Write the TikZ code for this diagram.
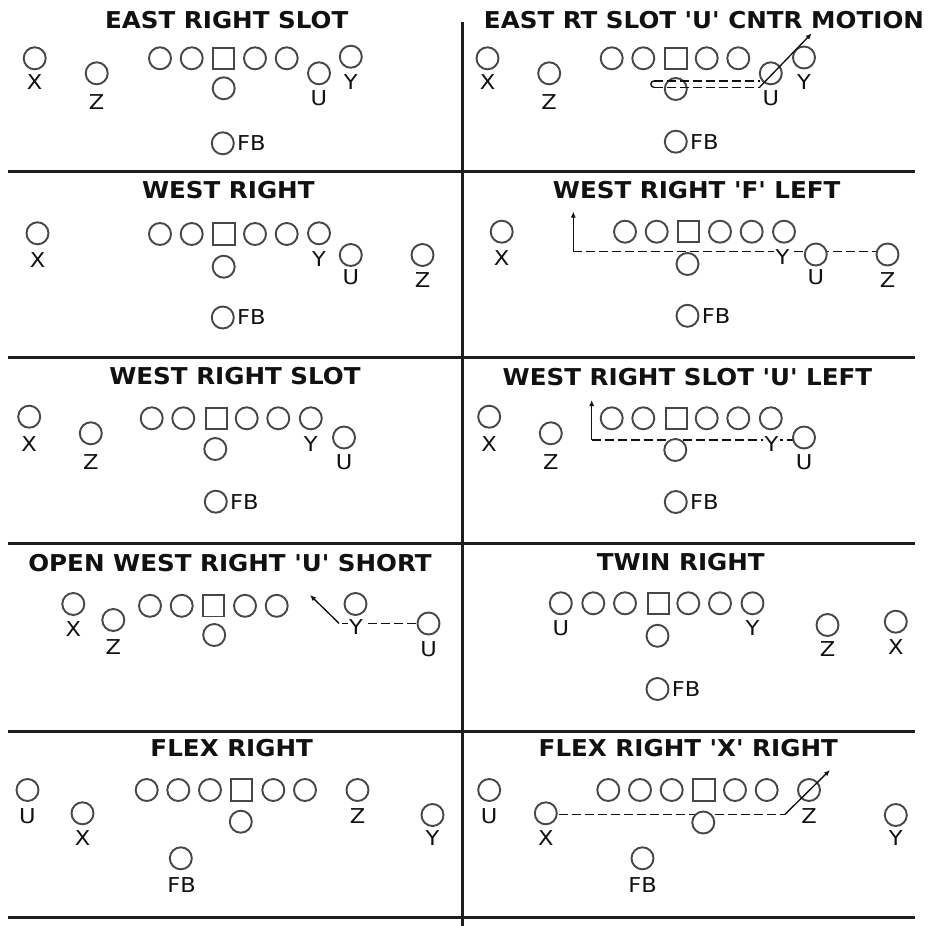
\documentclass[tikz,border=0pt]{standalone}
\usepackage{fontspec}
\newfontfamily\djv{DejaVu Sans}[FakeStretch=1.1]
\newfontfamily\djvb{DejaVu Sans Bold}[FakeStretch=1.06]
\usetikzlibrary{arrows.meta,backgrounds}
\definecolor{ink}{HTML}{111111}
\definecolor{ring}{HTML}{474747}
\definecolor{rulec}{HTML}{1E1E1E}
\begin{document}
\begin{tikzpicture}[x=1pt,y=-1pt,
 pl/.style={circle,draw=ring,line width=1.9pt,fill=white,minimum size=22pt,inner sep=0pt},
 ctr/.style={rectangle,draw=ring,line width=1.9pt,fill=white,minimum size=21.3pt,inner sep=0pt},
 lbl/.style={font={\djv\fontsize{20.5pt}{21pt}\selectfont},text=ink,fill=white,inner sep=1.2pt},
 fbl/.style={lbl,anchor=west,xshift=1pt},
 ttl/.style={font={\djvb\fontsize{23.2pt}{24pt}\selectfont},text=ink,inner sep=0pt},
 divider/.style={draw=rulec,line width=3pt},
 route/.style={draw=ink,line width=1.35pt,dash pattern=on 9pt off 4pt},
 stem/.style={draw=ink,line width=1.35pt},
 motion/.style={draw=ink,line width=1.35pt,-{Latex[length=6pt,width=5pt]}}]
\useasboundingbox (0,0) rectangle (935,926);

% ---------------- dividers
\coordinate (vt) at (462,22); \coordinate (vb) at (462,926);
\draw[divider] (vt) -- (vb);
\foreach \k/\yy in {1/171.5,2/357,3/543.5,4/731,5/917}{
  \coordinate (hl\k) at (8,\yy); \coordinate (hr\k) at (915,\yy);
  \draw[divider] (hl\k) -- (hr\k);
}

% ---------------- panel 1: EAST RIGHT SLOT
\node[ttl] (p1t) at (226.7,20) {EAST RIGHT SLOT};
\node[pl] (p1x) at (34.7,58.3) {}; \node[lbl] (p1xl) at (34.7,82.5) {X};
\node[pl] (p1z) at (96.7,73.3) {}; \node[lbl] (p1zl) at (96.7,102) {Z};
\foreach \i/\x in {1/160,2/191.7,4/255,5/286.7} \node[pl] (p1o\i) at (\x,58.3) {};
\node[ctr] (p1c) at (223.7,58.3) {};
\node[pl] (p1q) at (223.7,88.3) {};
\node[pl] (p1u) at (319,73.3) {}; \node[lbl] (p1ul) at (319,98) {U};
\node[pl] (p1y) at (350.8,56.7) {}; \node[lbl] (p1yl) at (350.8,82) {Y};
\node[pl] (p1f) at (222.8,143.3) {}; \node[fbl] (p1fl) at (p1f.east) {FB};

% ---------------- panel 2: EAST RT SLOT 'U' CNTR MOTION
\node[ttl] (p2t) at (704,20) {EAST RT SLOT 'U' CNTR MOTION};
\node[pl] (p2x) at (487.5,58.3) {}; \node[lbl] (p2xl) at (487.5,82.5) {X};
\node[pl] (p2z) at (549.2,73.3) {}; \node[lbl] (p2zl) at (549.2,102) {Z};
\foreach \i/\x in {1/611.7,2/643.3,4/706.7,5/738.3} \node[pl] (p2o\i) at (\x,58.3) {};
\node[ctr] (p2c) at (676,58.3) {};
\node[pl] (p2q) at (675.8,89) {};
\node[pl] (p2u) at (770.8,73.3) {}; \node[lbl] (p2ul) at (770.8,98) {U};
\node[pl] (p2y) at (804,57.5) {}; \node[lbl] (p2yl) at (804,82) {Y};
\node[pl] (p2f) at (675.8,141.7) {}; \node[fbl] (p2fl) at (p2f.east) {FB};
\coordinate (p2a) at (654,81); \coordinate (p2b) at (759.5,81);
\coordinate (p2c1) at (654,87.3); \coordinate (p2d) at (759.5,87.3);
\coordinate (p2tip) at (811.7,33.3);
\draw[route] (p2a) -- (p2b);
\draw[route] (p2c1) -- (p2d);
\draw[stem] (p2a) arc[start angle=90,end angle=270,radius=3.15pt];
\draw[motion] (p2d) -- (p2tip);

% ---------------- panel 3: WEST RIGHT
\node[ttl] (p3t) at (228.3,190) {WEST RIGHT};
\node[pl] (p3x) at (37.5,233.3) {}; \node[lbl] (p3xl) at (37.5,260) {X};
\foreach \i/\x in {1/160,2/191.7,4/255,5/286.7} \node[pl] (p3o\i) at (\x,234) {};
\node[ctr] (p3c) at (224,234) {};
\node[pl] (p3y) at (319,233.3) {}; \node[lbl] (p3yl) at (319,259) {Y};
\node[pl] (p3q) at (223.7,266.7) {};
\node[pl] (p3u) at (350.8,255) {}; \node[lbl] (p3ul) at (350.8,277.5) {U};
\node[pl] (p3z) at (422.5,255) {}; \node[lbl] (p3zl) at (422.5,280) {Z};
\node[pl] (p3f) at (222.8,317.5) {}; \node[fbl] (p3fl) at (p3f.east) {FB};

% ---------------- panel 4: WEST RIGHT 'F' LEFT
\node[ttl] (p4t) at (696.7,190) {WEST RIGHT 'F' LEFT};
\node[pl] (p4x) at (501.7,231.7) {}; \node[lbl] (p4xl) at (501.7,258) {X};
\foreach \i/\x in {1/625,2/656.7,4/720,5/751.7} \node[pl] (p4o\i) at (\x,231.7) {};
\node[ctr] (p4c) at (688.3,231.7) {};
\node[pl] (p4y) at (784,231.7) {}; \node[lbl] (p4yl) at (782.5,256.7) {Y};
\node[pl] (p4q) at (687.5,264) {};
\node[pl] (p4u) at (815.8,254.5) {}; \node[lbl] (p4ul) at (815.8,277.5) {U};
\node[pl] (p4z) at (887.5,254.5) {}; \node[lbl] (p4zl) at (887.5,280) {Z};
\node[pl] (p4f) at (687.5,315.8) {}; \node[fbl] (p4fl) at (p4f.east) {FB};
\coordinate (p4a) at (573.3,251.7); \coordinate (p4tip) at (573.3,211.5);
\begin{scope}[on background layer]
\draw[route] (p4a) -- (p4a -| p4z);
\end{scope}
\draw[motion] (p4a) -- (p4tip);

% ---------------- panel 5: WEST RIGHT SLOT
\node[ttl] (p5t) at (235,375.8) {WEST RIGHT SLOT};
\node[pl] (p5x) at (29.2,416.7) {}; \node[lbl] (p5xl) at (29.2,444) {X};
\node[pl] (p5z) at (90.8,433.3) {}; \node[lbl] (p5zl) at (90.8,462) {Z};
\foreach \i/\x in {1/151.7,2/183.3,4/246.7,5/278.3} \node[pl] (p5o\i) at (\x,418.3) {};
\node[ctr] (p5c) at (216.2,418.3) {};
\node[pl] (p5y) at (310.8,418.3) {}; \node[lbl] (p5yl) at (310.8,444) {Y};
\node[pl] (p5q) at (215.3,449) {};
\node[pl] (p5u) at (344,437.5) {}; \node[lbl] (p5ul) at (344,462.5) {U};
\node[pl] (p5f) at (215.8,501.7) {}; \node[fbl] (p5fl) at (p5f.east) {FB};

% ---------------- panel 6: WEST RIGHT SLOT 'U' LEFT
\node[ttl] (p6t) at (687.5,376.7) {WEST RIGHT SLOT 'U' LEFT};
\node[pl] (p6x) at (489.2,416.7) {}; \node[lbl] (p6xl) at (489.2,444) {X};
\node[pl] (p6z) at (550.8,433.3) {}; \node[lbl] (p6zl) at (550.8,462) {Z};
\foreach \i/\x in {1/611.7,2/643.3,4/706.7,5/738.3} \node[pl] (p6o\i) at (\x,418.3) {};
\node[ctr] (p6c) at (676.2,418.3) {};
\node[pl] (p6y) at (770.8,418.3) {}; \node[lbl] (p6yl) at (771.5,444) {Y};
\node[pl] (p6q) at (675.3,450) {};
\node[pl] (p6u) at (804,437.5) {}; \node[lbl] (p6ul) at (804,462.5) {U};
\node[pl] (p6f) at (675.8,502) {}; \node[fbl] (p6fl) at (p6f.east) {FB};
\coordinate (p6a) at (591.7,440); \coordinate (p6tip) at (591.7,400);
\begin{scope}[on background layer]
\draw[route] (p6a) -- (p6a -| p6u);
\end{scope}
\draw[motion] (p6a) -- (p6tip);

% ---------------- panel 7: OPEN WEST RIGHT 'U' SHORT
\node[ttl] (p7t) at (230,563.3) {OPEN WEST RIGHT 'U' SHORT};
\node[pl] (p7x) at (73.3,604) {}; \node[lbl] (p7xl) at (73.3,629) {X};
\node[pl] (p7z) at (113.3,620) {}; \node[lbl] (p7zl) at (113.3,647.5) {Z};
\foreach \i/\x in {1/150,2/181.7,4/245,5/276.7} \node[pl] (p7o\i) at (\x,605.8) {};
\node[ctr] (p7c) at (213.3,605.8) {};
\node[pl] (p7q) at (214.2,635) {};
\node[pl] (p7y) at (355.5,604) {}; \node[lbl] (p7yl) at (356,627) {Y};
\node[pl] (p7u) at (428.5,623.5) {}; \node[lbl] (p7ul) at (428.5,649) {U};
\coordinate (p7a) at (339,623.3); \coordinate (p7tip) at (310,595);
\begin{scope}[on background layer]
\draw[route] (p7a -| p7u) -- (p7a);
\end{scope}
\draw[motion] (p7a) -- (p7tip);

% ---------------- panel 8: TWIN RIGHT
\node[ttl] (p8t) at (680.8,561.7) {TWIN RIGHT};
\node[pl] (p8u) at (560.8,603.3) {}; \node[lbl] (p8ul) at (560.8,628) {U};
\foreach \i/\x in {1/593.3,2/625,4/688.3,5/720} \node[pl] (p8o\i) at (\x,603.3) {};
\node[ctr] (p8c) at (658.3,603.3) {};
\node[pl] (p8y) at (752.5,603.3) {}; \node[lbl] (p8yl) at (752.5,628) {Y};
\node[pl] (p8q) at (657.5,635.8) {};
\node[pl] (p8z) at (827.5,625) {}; \node[lbl] (p8zl) at (827.5,649) {Z};
\node[pl] (p8x) at (895.8,621.7) {}; \node[lbl] (p8xl) at (895.8,646.7) {X};
\node[pl] (p8f) at (657.5,689) {}; \node[fbl] (p8fl) at (p8f.east) {FB};

% ---------------- panel 9: FLEX RIGHT
\node[ttl] (p9t) at (231.7,748.3) {FLEX RIGHT};
\node[pl] (p9u) at (27.5,790) {}; \node[lbl] (p9ul) at (27.5,816) {U};
\node[pl] (p9x) at (82.5,813.3) {}; \node[lbl] (p9xl) at (82.5,838) {X};
\foreach \i/\x in {1/146.7,2/178.3,3/210,5/273.3,6/305} \node[pl] (p9o\i) at (\x,790) {};
\node[ctr] (p9c) at (241.7,790) {};
\node[pl] (p9q) at (240.8,821.7) {};
\node[pl] (p9z) at (357.5,790) {}; \node[lbl] (p9zl) at (357.5,816) {Z};
\node[pl] (p9y) at (432.5,815) {}; \node[lbl] (p9yl) at (432.5,838) {Y};
\node[pl] (p9f) at (180.8,858.3) {}; \node[lbl] (p9fl) at (181.7,885) {FB};

% ---------------- panel 10: FLEX RIGHT 'X' RIGHT
\node[ttl] (p10t) at (688.3,748.3) {FLEX RIGHT 'X' RIGHT};
\node[pl] (p10u) at (489.2,790) {}; \node[lbl] (p10ul) at (489.2,816) {U};
\node[pl] (p10x) at (545.8,813.3) {}; \node[lbl] (p10xl) at (545.8,838) {X};
\foreach \i/\x in {1/608.3,2/640,3/671.7,5/735,6/766.7} \node[pl] (p10o\i) at (\x,790) {};
\node[ctr] (p10c) at (704,790) {};
\node[pl] (p10z) at (809,790) {}; \node[lbl] (p10zl) at (809,816) {Z};
\node[pl] (p10q) at (703.3,822.5) {};
\node[pl] (p10y) at (895.8,815) {}; \node[lbl] (p10yl) at (895.8,838) {Y};
\node[pl] (p10f) at (642.5,858.3) {}; \node[lbl] (p10fl) at (642.5,885) {FB};
\coordinate (p10a) at (785,814.3); \coordinate (p10tip) at (830,770);
\begin{scope}[on background layer]
\draw[route] (p10a -| p10x) -- (p10a);
\end{scope}
\draw[motion] (p10a) -- (p10tip);
\end{tikzpicture}
\end{document}
